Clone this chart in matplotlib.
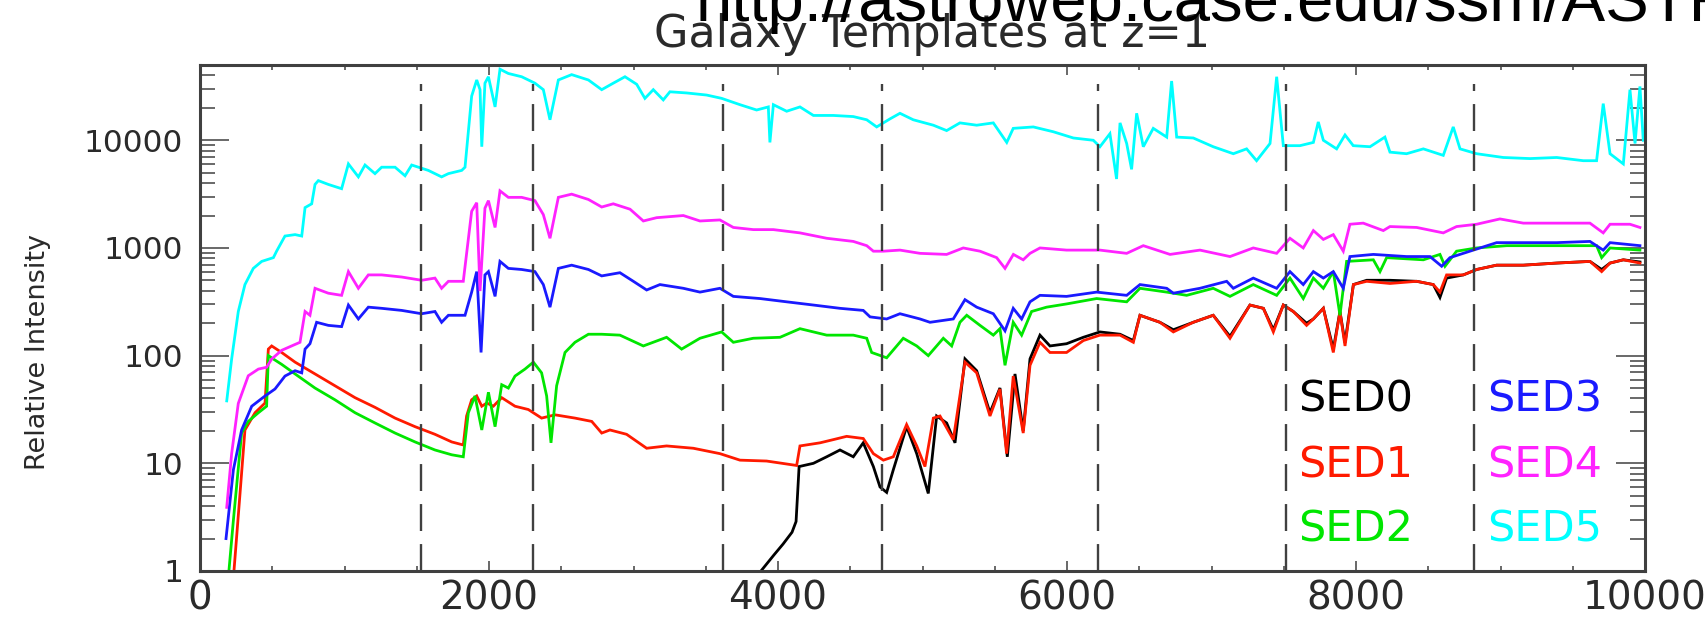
"""
Galaxy SED templates at z=1 (IDL-style log plot)
"""
import numpy as np
from matplotlib import pyplot as plt
from matplotlib.ticker import FixedLocator, FixedFormatter, MultipleLocator, LogLocator, NullFormatter

plt.rcParams['lines.scale_dashes'] = False

# ---- data ----
sed0_wave = [3882, 3972, 4035, 4097, 4125, 4146, 4245, 4337, 4429, 4521, 4590, 4660, 4706, 4752, 4798,
             4890, 4960, 5040, 5098, 5167, 5225, 5294, 5375, 5467, 5536, 5587, 5640, 5697, 5744, 5813,
             5882, 5997, 6113, 6228, 6367, 6459, 6505, 6643, 6736, 6874, 7012, 7128, 7266, 7359, 7428,
             7497, 7566, 7658, 7705, 7774, 7843, 7889, 7924, 7982, 8074, 8235, 8420, 8535, 8581, 8627,
             8743, 8835, 8973, 9158, 9389, 9619, 9700, 9758, 9850, 9965]
sed0_flux = [1.0, 1.41, 1.78, 2.29, 2.88, 9.33, 10, 11.5, 13.3, 11.5, 15.5, 9.33, 6.03, 5.37, 8.71,
             21.9, 12.3, 5.25, 27.5, 23.7, 15.5, 93.3, 72.4, 29.5, 50.1, 11.5, 67.6, 20, 93.3, 155,
             123, 129, 148, 166, 158, 138, 237, 204, 174, 204, 237, 151, 295, 275, 174,
             295, 257, 200, 219, 275, 115, 257, 132, 457, 501, 501, 490, 457, 347, 525,
             562, 631, 692, 692, 724, 750, 631, 724, 776, 741]

sed1_wave = [235, 277, 311, 381, 450, 473, 496, 565, 658, 796, 934, 1073, 1211, 1350, 1488, 1626,
             1742, 1822, 1845, 1880, 1915, 1950, 1985, 2030, 2088, 2180, 2272, 2364, 2457, 2595,
             2711, 2780, 2837, 2952, 3091, 3229, 3414, 3598, 3737, 3921, 4129, 4152, 4291, 4383,
             4475, 4590, 4660, 4729, 4798, 4890, 4960, 5017, 5075, 5121, 5213, 5294, 5375, 5467,
             5536, 5582, 5628, 5697, 5744, 5813, 5882, 5997, 6113, 6228, 6367, 6459, 6505, 6643,
             6736, 6874, 7012, 7128, 7266, 7359, 7428, 7497, 7566, 7658, 7705, 7774, 7843, 7889,
             7924, 7982, 8074, 8235, 8420, 8535, 8581, 8627, 8743, 8835, 8973, 9158, 9389, 9619,
             9700, 9758, 9850, 9965]
sed1_flux = [1.0, 5.25, 20.4, 29.5, 36.3, 115, 123, 107, 87, 67.6, 52.5, 40.7, 33.1, 26.3, 21.9, 18.6,
             15.8, 14.8, 27.5, 38.9, 42.2, 33.9, 36.3, 33.9, 40.7, 33.9, 31.6, 26.3, 28.2, 26.3,
             24.5, 19.1, 20.4, 18.6, 13.8, 14.5, 13.8, 12.3, 10.7, 10.5, 9.55, 14.5, 15.5, 16.6,
             17.8, 17.0, 12.3, 10.7, 11.5, 22.9, 14.5, 9.33, 26.3, 27.5, 16.6, 87, 69.2, 27.5,
             49, 12.3, 64.6, 19.1, 81.3, 133, 107, 107, 138, 155, 155, 133, 237, 204,
             166, 204, 237, 145, 295, 275, 166, 295, 257, 191, 219, 275, 107, 257,
             123, 457, 490, 468, 490, 457, 389, 562, 562, 631, 692, 692, 724, 750,
             603, 724, 776, 724]

sed2_wave = [200, 231, 288, 334, 404, 461, 473, 508, 565, 658, 796, 934, 1073, 1211, 1350, 1488,
             1626, 1742, 1822, 1857, 1903, 1950, 1996, 2042, 2088, 2134, 2180, 2249, 2307, 2364,
             2399, 2429, 2468, 2526, 2595, 2688, 2780, 2906, 3068, 3229, 3333, 3460, 3610, 3691,
             3829, 4014, 4152, 4337, 4521, 4614, 4648, 4752, 4867, 4960, 5040, 5144, 5202, 5259,
             5306, 5398, 5490, 5536, 5571, 5628, 5686, 5755, 5859, 5997, 6205, 6413, 6505, 6690,
             6828, 7012, 7128, 7289, 7451, 7543, 7635, 7705, 7774, 7843, 7889, 7935, 8120, 8166,
             8212, 8466, 8581, 8616, 8696, 8835, 9043, 9389, 9665, 9700, 9758, 9965]
sed2_flux = [1.0, 2.95, 19.1, 24.5, 29.5, 33.9, 100, 93, 83, 67.6, 50, 38.9, 29.5, 23.7, 19.1, 15.8,
             13.3, 12.0, 11.5, 29.5, 42.2, 20.4, 45.7, 21.9, 53.7, 50, 64.6, 75, 87, 69.2,
             42.2, 15.5, 52.5, 107, 133, 158, 158, 155, 123, 148, 115, 145, 166, 133,
             145, 148, 178, 155, 155, 145, 107, 95.5, 145, 123, 100, 145, 123, 204,
             237, 191, 155, 178, 81.3, 204, 155, 257, 282, 302, 339, 316, 422, 389,
             363, 422, 355, 457, 363, 525, 339, 525, 422, 603, 237, 750, 776, 603,
             813, 776, 871, 676, 933, 1000, 1050, 1050, 1050, 813, 1000, 955]

sed3_wave = [180, 231, 288, 358, 450, 519, 588, 658, 704, 727, 761, 807, 888, 980, 1027, 1096,
             1165, 1257, 1396, 1534, 1626, 1672, 1719, 1834, 1880, 1915, 1945, 1972, 1996, 2042,
             2076, 2134, 2226, 2318, 2376, 2422, 2480, 2572, 2688, 2780, 2906, 2999, 3091, 3183,
             3345, 3460, 3598, 3691, 3875, 4060, 4245, 4429, 4590, 4637, 4752, 4844, 4983, 5052,
             5213, 5294, 5375, 5490, 5571, 5628, 5686, 5744, 5813, 5997, 6205, 6413, 6505, 6690,
             6736, 6920, 7105, 7151, 7289, 7451, 7543, 7635, 7705, 7774, 7843, 7912, 7958, 8120,
             8350, 8512, 8593, 8650, 8812, 8973, 9158, 9389, 9619, 9711, 9758, 9965]
sed3_flux = [2.0, 8.7, 20.4, 33.9, 42.2, 49, 64.6, 72.4, 69.2, 115, 129, 204, 191, 186, 295, 219,
             282, 275, 263, 245, 257, 204, 237, 237, 389, 603, 107, 562, 603, 355,
             750, 646, 631, 603, 457, 282, 646, 692, 631, 550, 589, 490, 407, 457,
             422, 389, 422, 355, 339, 316, 295, 275, 263, 229, 219, 245, 219, 204,
             219, 331, 282, 245, 170, 275, 219, 316, 363, 355, 389, 363, 457, 422,
             380, 422, 490, 422, 525, 422, 603, 457, 603, 525, 603, 422, 832, 871,
             832, 832, 676, 813, 955, 1120, 1120, 1120, 1150, 955, 1120, 1050]

sed4_wave = [185, 219, 265, 334, 404, 461, 496, 565, 634, 692, 727, 761, 796, 888, 980, 1027,
             1096, 1165, 1257, 1396, 1534, 1626, 1672, 1719, 1822, 1880, 1915, 1938, 1972, 1996,
             2042, 2076, 2134, 2226, 2318, 2376, 2422, 2480, 2572, 2688, 2780, 2860, 2976, 3068,
             3160, 3345, 3460, 3598, 3691, 3829, 3968, 4152, 4337, 4521, 4614, 4660, 4729, 4844,
             4983, 5167, 5282, 5398, 5513, 5571, 5629, 5697, 5744, 5813, 5997, 6228, 6413, 6528,
             6713, 6920, 7128, 7289, 7451, 7543, 7635, 7705, 7774, 7843, 7912, 7958, 8050, 8189,
             8235, 8420, 8604, 8696, 8835, 8996, 9158, 9389, 9619, 9711, 9758, 9896, 9965]
sed4_flux = [3.9, 12.3, 36, 65, 75, 78, 93, 112, 123, 133, 257, 237, 422, 380, 363, 603,
             422, 562, 562, 537, 501, 525, 422, 490, 490, 2190, 2630, 398, 2340, 2750,
             1550, 3390, 2950, 2950, 2750, 2040, 1230, 2950, 3160, 2820, 2400, 2570, 2290, 1780,
             1910, 2000, 1780, 1820, 1550, 1480, 1480, 1380, 1230, 1150, 1050, 933, 933, 955,
             891, 871, 1000, 933, 813, 646, 871, 776, 891, 1000, 955, 955, 891, 1050,
             871, 955, 832, 1000, 891, 1230, 1000, 1450, 1200, 1330, 933, 1660, 1700, 1450,
             1580, 1550, 1380, 1580, 1660, 1860, 1700, 1700, 1700, 1380, 1660, 1660, 1550]

sed5_wave = [185, 219, 265, 311, 369, 427, 508, 530, 588, 658, 704, 727, 773, 796, 819, 888,
             980, 1027, 1096, 1142, 1211, 1257, 1350, 1419, 1465, 1580, 1672, 1719, 1811, 1834,
             1880, 1915, 1938, 1950, 1972, 1996, 2042, 2076, 2134, 2226, 2318, 2376, 2422, 2480,
             2572, 2688, 2780, 2860, 2941, 3022, 3079, 3137, 3206, 3252, 3368, 3506, 3610, 3737,
             3852, 3933, 3944, 3968, 4060, 4152, 4245, 4383, 4521, 4614, 4683, 4775, 4844, 4936,
             5075, 5167, 5259, 5375, 5490, 5583, 5628, 5767, 5905, 6044, 6182, 6228, 6297, 6343,
             6367, 6413, 6447, 6482, 6528, 6597, 6690, 6724, 6759, 6874, 7012, 7151, 7243, 7312,
             7405, 7451, 7497, 7612, 7705, 7739, 7774, 7866, 7924, 7981, 8097, 8200, 8235, 8350,
             8466, 8604, 8673, 8720, 8835, 9019, 9204, 9389, 9573, 9665, 9711, 9758, 9850, 9896,
             9931, 9965, 9988]
sed5_flux = [38, 93, 257, 457, 646, 750, 813, 933, 1290, 1330, 1290, 2370, 2570, 3890, 4220, 3890,
             3550, 6030, 4570, 5890, 4900, 5620, 5620, 4680, 5890, 5250, 4570, 4900, 5250, 5620,
             25700, 36300, 29500, 8710, 33900, 38900, 20400, 45700, 41700, 38900, 33900, 29500, 15500, 36300,
             40700, 36300, 29500, 33900, 38900, 33100, 24500, 29500, 23700, 28200, 27500, 26300, 24500, 21400,
             19100, 20400, 9550, 21400, 18600, 20400, 17000, 17000, 16600, 15500, 13300, 15800, 17800, 15500,
             13800, 12300, 14500, 13800, 14500, 9550, 12900, 13300, 12000, 10500, 10000, 8710, 11500, 4370,
             14500, 9330, 5370, 17800, 8710, 12900, 10700, 35500, 10700, 10500, 8710, 7500, 8320, 6460,
             9330, 38900, 8910, 8910, 9550, 14800, 10000, 8320, 11200, 8910, 8710, 10700, 7760, 7500,
             8320, 7240, 13300, 8320, 7500, 6920, 6760, 6920, 6460, 6460, 21900, 7500, 6030, 29500,
             9330, 31600, 10000]

sed_names = ['SED0', 'SED1', 'SED2', 'SED3', 'SED4', 'SED5']
sed_colors = ['#000000', '#ff1a00', '#00e600', '#1a1aff', '#ff22ff', '#00ffff']
filter_edges = [1530, 2305, 3620, 4720, 6215, 7515, 8815]

x_ticks = [0, 2000, 4000, 6000, 8000, 10000]
y_ticks = [1, 10, 100, 1000, 10000]
y_labels = ['1', '10', '100', '1000', '10000']

# ---- plot ----
W, H = 1705, 630
fig = plt.figure(figsize=(W / 100, H / 100), dpi=100)
ax = fig.add_axes([200 / W, 1 - 571 / H, 1445 / W, 506 / H])

waves = [sed0_wave, sed1_wave, sed2_wave, sed3_wave, sed4_wave, sed5_wave]
fluxes = [sed0_flux, sed1_flux, sed2_flux, sed3_flux, sed4_flux, sed5_flux]
for wv, fl, c in zip(waves, fluxes, sed_colors):
	ax.plot(wv, fl, color = c, lw = 2.0, solid_joinstyle = 'miter')

for xe in filter_edges:
	ax.plot([xe, xe], [1, 3.3e4], color = '#404040', lw = 1.7, ls = (0, (19.4, 9.4)))

ax.set_yscale('log')
ax.set_xlim(0, 10000)
ax.set_ylim(1, 5e4)

ax.xaxis.set_major_locator(FixedLocator(x_ticks))
ax.xaxis.set_minor_locator(MultipleLocator(500))
ax.yaxis.set_major_locator(FixedLocator(y_ticks))
ax.yaxis.set_major_formatter(FixedFormatter(y_labels))
ax.yaxis.set_minor_locator(LogLocator(base = 10, subs = np.arange(2, 10)))
ax.yaxis.set_minor_formatter(NullFormatter())

frame_c = '#404040'
for sp in ax.spines.values():
	sp.set_color(frame_c)
	sp.set_linewidth(2.2)
ax.tick_params(which = 'both', direction = 'in', top = True, right = True, color = frame_c, width = 1.1)
ax.tick_params(axis = 'y', which = 'major', length = 21, pad = 12, labelsize = 22.5, labelcolor = '#2a2a2a')
ax.tick_params(axis = 'y', which = 'minor', length = 10.5)
ax.tick_params(axis = 'x', which = 'major', length = 7.5, pad = 6, labelsize = 28, labelcolor = '#2a2a2a')
ax.tick_params(axis = 'x', which = 'minor', length = 3.8)

fig.text(38 / W, 1 - 352 / H, 'Relative Intensity', rotation = 90, ha = 'center', va = 'center',
	fontsize = 19.5, color = '#2a2a2a')
fig.text(932 / W, 1 - 34 / H, 'Galaxy Templates at z=1', ha = 'center', va = 'center',
	fontsize = 32, color = '#2a2a2a')
fig.text(696 / W, 1 - 21 / H, 'http://astroweb.case.edu/ssm/ASTR', ha = 'left', va = 'baseline',
	fontsize = 47, color = 'black', family = ['Liberation Sans', 'DejaVu Sans'])

legend_x = [1298, 1298, 1298, 1487, 1487, 1487]
legend_y = [400, 465, 530, 400, 465, 530]
for name, c, lx, ly in zip(sed_names, sed_colors, legend_x, legend_y):
	fig.text(lx / W, 1 - ly / H, name, ha = 'left', va = 'center', fontsize = 31, color = c)

plt.savefig('out.png', dpi = 100, facecolor = 'white')
plt.close()
